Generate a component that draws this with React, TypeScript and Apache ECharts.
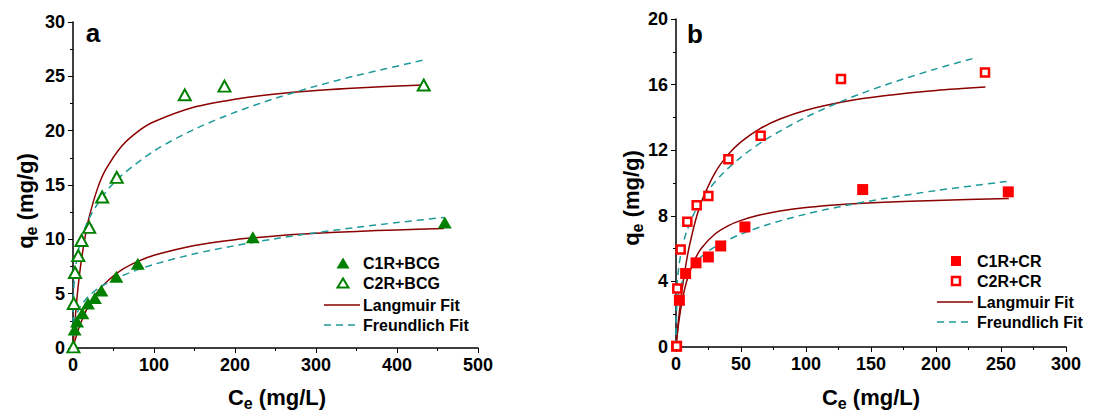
import React, { useEffect, useRef } from "react";
import * as echarts from "echarts";

// ---------- Panel a: BCG ----------
const bcgC1R: number[][] = [
  [2, 1.7], [5, 2.45], [11.5, 3.2], [18.5, 4.1], [27, 4.6], [35, 5.3],
  [53.5, 6.55], [80, 7.75], [222, 10.2], [459, 11.55],
];
const bcgC2R: number[][] = [
  [0.5, 0.1], [1, 4.1], [2.5, 6.95], [6.5, 8.5], [10.5, 9.9], [20, 11.1],
  [36, 13.9], [54, 15.7], [138, 23.3], [187, 24.1], [433, 24.2],
];
const bcgC1RLangmuir: number[][] = [
  [0, 0], [1, 0.29], [2, 0.57], [5, 1.33], [10, 2.39], [20, 3.99], [30, 5.13],
  [40, 5.98], [60, 7.18], [80, 7.97], [100, 8.54], [150, 9.44], [200, 9.97],
  [250, 10.31], [300, 10.55], [350, 10.73], [400, 10.87], [458, 11.0],
];
const bcgC2RLangmuir: number[][] = [
  [0, 0], [1, 1.1], [2, 2.1], [5, 4.67], [7, 6.1], [10, 7.9], [15, 10.26],
  [20, 12.06], [30, 14.62], [40, 16.36], [60, 18.57], [80, 19.92], [100, 20.82],
  [150, 22.17], [200, 22.9], [250, 23.37], [300, 23.69], [350, 23.93], [433, 24.2],
];
const bcgC1RFreundlich: number[][] = [
  [0, 0], [0.5, 1.64], [2, 2.46], [5, 3.21], [10, 3.93], [20, 4.81], [30, 5.42],
  [40, 5.89], [60, 6.63], [80, 7.21], [100, 7.7], [150, 8.67], [200, 9.42],
  [250, 10.06], [300, 10.61], [350, 11.1], [400, 11.54], [458, 12.01],
];
const bcgC2RFreundlich: number[][] = [
  [0, 0], [0.5, 4.6], [2, 6.58], [5, 8.34], [10, 9.98], [20, 11.95], [40, 14.3],
  [60, 15.88], [100, 18.13], [150, 20.13], [200, 21.69], [250, 22.98],
  [300, 24.1], [350, 25.07], [433, 26.5],
];

// ---------- Panel b: CR ----------
const crC1R: number[][] = [
  [0.5, 0.05], [2.6, 2.85], [7.4, 4.48], [15.4, 5.13], [24.9, 5.49], [34.4, 6.16],
  [53, 7.32], [143.6, 9.6], [255.6, 9.46],
];
const crC2R: number[][] = [
  [0.5, 0.04], [1, 3.56], [3.6, 5.94], [8.7, 7.63], [15.9, 8.65], [24.9, 9.2],
  [40.3, 11.45], [65.1, 12.88], [126.9, 16.34], [237.7, 16.74],
];
const crC1RLangmuir: number[][] = [
  [0, 0], [1, 0.78], [2, 1.44], [4, 2.5], [6, 3.31], [8, 3.95], [10, 4.47],
  [15, 5.42], [20, 6.07], [30, 6.89], [40, 7.39], [50, 7.72], [65, 8.06],
  [80, 8.29], [100, 8.5], [130, 8.7], [160, 8.83], [200, 8.94], [256, 9.05],
];
const crC2RLangmuir: number[][] = [
  [0, 0], [1, 0.89], [2, 1.69], [4, 3.08], [6, 4.23], [8, 5.21], [10, 6.05],
  [15, 7.71], [20, 8.94], [30, 10.62], [40, 11.73], [50, 12.51], [65, 13.33],
  [80, 13.9], [100, 14.44], [130, 14.97], [160, 15.32], [200, 15.64], [238, 15.85],
];
const crC1RFreundlich: number[][] = [
  [0, 0], [0.5, 2.33], [1, 2.75], [2, 3.23], [4, 3.8], [8, 4.48], [15, 5.19],
  [25, 5.85], [35, 6.33], [50, 6.89], [70, 7.45], [100, 8.11], [130, 8.62],
  [160, 9.05], [200, 9.54], [256, 10.11],
];
const crC2RFreundlich: number[][] = [
  [0, 0], [0.5, 3.26], [1, 3.95], [2, 4.78], [4, 5.78], [8, 7.0], [15, 8.32],
  [25, 9.57], [35, 10.5], [50, 11.58], [70, 12.7], [100, 14.01], [130, 15.07],
  [160, 15.95], [200, 16.96], [232, 17.67],
];

const legendA = ["C1R+BCG", "C2R+BCG", "Langmuir Fit", "Freundlich Fit"];
const legendB = ["C1R+CR", "C2R+CR", "Langmuir Fit", "Freundlich Fit"];

const FONT = "'Liberation Sans', Arial, Helvetica, sans-serif";
const GREEN = "#008000";
const RED = "#ff0000";
const MAROON = "#8b0000";
const TEAL = "#1f9a9a";
const DASH = [7, 5];

function axisCommon() {
  return {
    type: "value" as const,
    axisLine: { show: true, onZero: false, lineStyle: { color: "#000", width: 1.5 } },
    axisTick: { show: true, inside: false, length: 5, lineStyle: { color: "#000", width: 1 } },
    minorTick: { show: true, splitNumber: 2, length: 3, lineStyle: { color: "#000", width: 1 } },
    splitLine: { show: false },
    minorSplitLine: { show: false },
    axisLabel: { fontSize: 18, fontWeight: "bold", color: "#000", fontFamily: FONT, margin: 8 },
  };
}

function lineSeries(name: string, data: number[][], idx: number, color: string, dashed: boolean) {
  return {
    name,
    type: "line",
    xAxisIndex: idx,
    yAxisIndex: idx,
    data,
    symbol: "none",
    showSymbol: false,
    smooth: 0.3,
    z: 2,
    lineStyle: { color, width: 1.5, type: dashed ? DASH : "solid" },
  };
}

function scatterSeries(name: string, data: number[][], idx: number, symbol: string, size: any, style: any) {
  return {
    name, type: "scatter", xAxisIndex: idx, yAxisIndex: idx, data, symbol, symbolSize: size, z: 3,
    itemStyle: { opacity: 1, ...style },
  };
}

const titleRich = {
  m: { fontSize: 22, fontWeight: "bold", fontFamily: FONT, fill: "#000" },
  s: { fontSize: 16, fontWeight: "bold", fontFamily: FONT, fill: "#000", padding: [12, 0, 0, 0] },
};

function titleText(text: string, x: number, y: number, rotate: boolean) {
  return {
    type: "text",
    x,
    y,
    rotation: rotate ? Math.PI / 2 : 0,
    style: {
      text,
      rich: titleRich,
      align: "center",
      verticalAlign: "middle",
      fill: "#000",
    },
  };
}

function legendText(text: string, x: number, y: number) {
  return {
    type: "text",
    x,
    y,
    style: { text, fontSize: 16, fontWeight: "bold", fontFamily: FONT, fill: "#000", align: "left", verticalAlign: "middle" },
  };
}

export default function App() {
  const ref = useRef<HTMLDivElement>(null);
  useEffect(() => {
    if (!ref.current) return;
    const chart = echarts.init(ref.current, undefined, { renderer: "svg" });
    const option: any = {
      animation: false,
      backgroundColor: "#fff",
      grid: [
        { left: 73, top: 22, width: 405, height: 326 },
        { left: 676, top: 19, width: 390, height: 328 },
      ],
      xAxis: [
        { ...axisCommon(), gridIndex: 0, min: 0, max: 500, interval: 100 },
        { ...axisCommon(), gridIndex: 1, min: 0, max: 300, interval: 50 },
      ],
      yAxis: [
        { ...axisCommon(), gridIndex: 0, min: 0, max: 30, interval: 5 },
        { ...axisCommon(), gridIndex: 1, min: 0, max: 20, interval: 4 },
      ],
      series: [
        lineSeries(legendA[2], bcgC1RLangmuir, 0, MAROON, false),
        lineSeries(legendA[2], bcgC2RLangmuir, 0, MAROON, false),
        lineSeries(legendA[3], bcgC1RFreundlich, 0, TEAL, true),
        lineSeries(legendA[3], bcgC2RFreundlich, 0, TEAL, true),
        scatterSeries(legendA[0], bcgC1R, 0, "triangle", [14, 12], { color: GREEN }),
        scatterSeries(legendA[1], bcgC2R, 0, "triangle", [12, 11], { color: "#fff", borderColor: GREEN, borderWidth: 2 }),
        lineSeries(legendB[2], crC1RLangmuir, 1, MAROON, false),
        lineSeries(legendB[2], crC2RLangmuir, 1, MAROON, false),
        lineSeries(legendB[3], crC1RFreundlich, 1, TEAL, true),
        lineSeries(legendB[3], crC2RFreundlich, 1, TEAL, true),
        scatterSeries(legendB[0], crC1R, 1, "rect", 11, { color: RED }),
        scatterSeries(legendB[1], crC2R, 1, "rect", 8, { color: "#fff", borderColor: RED, borderWidth: 2.5 }),
      ],
      graphic: [
        { type: "text", x: 93, y: 33, style: { text: "a", fontSize: 26, fontWeight: "bold", fontFamily: FONT, fill: "#000", align: "center", verticalAlign: "middle" } },
        { type: "text", x: 695, y: 34, style: { text: "b", fontSize: 26, fontWeight: "bold", fontFamily: FONT, fill: "#000", align: "center", verticalAlign: "middle" } },
        titleText("{m|q}{s|e}{m| (mg/g)}", 25, 201, true),
        titleText("{m|C}{s|e}{m| (mg/L)}", 277, 397, false),
        titleText("{m|q}{s|e}{m| (mg/g)}", 631, 198, true),
        titleText("{m|C}{s|e}{m| (mg/L)}", 871, 397, false),
        // legend a
        { type: "polygon", shape: { points: [[336.5, 268.5], [343, 257.5], [349.5, 268.5]] }, style: { fill: GREEN } },
        legendText(legendA[0], 363, 263),
        { type: "polygon", shape: { points: [[337.5, 287.5], [343, 278.5], [348.5, 287.5]] }, style: { fill: "#fff", stroke: GREEN, lineWidth: 2 } },
        legendText(legendA[1], 363, 283),
        { type: "line", shape: { x1: 324, y1: 305, x2: 360, y2: 305 }, style: { stroke: MAROON, lineWidth: 1.5 } },
        legendText(legendA[2], 363, 305),
        { type: "line", shape: { x1: 324, y1: 325, x2: 360, y2: 325 }, style: { stroke: TEAL, lineWidth: 1.5, lineDash: DASH } },
        legendText(legendA[3], 363, 325),
        // legend b
        { type: "rect", shape: { x: 951, y: 256, width: 10, height: 10 }, style: { fill: RED } },
        legendText(legendB[0], 977, 261),
        { type: "rect", shape: { x: 952, y: 277, width: 8, height: 8 }, style: { fill: "#fff", stroke: RED, lineWidth: 2.5 } },
        legendText(legendB[1], 977, 281),
        { type: "line", shape: { x1: 937, y1: 302, x2: 973, y2: 302 }, style: { stroke: MAROON, lineWidth: 1.5 } },
        legendText(legendB[2], 977, 302),
        { type: "line", shape: { x1: 937, y1: 322, x2: 973, y2: 322 }, style: { stroke: TEAL, lineWidth: 1.5, lineDash: DASH } },
        legendText(legendB[3], 977, 322),
      ],
    };
    chart.setOption(option);
    return () => chart.dispose();
  }, []);
  return (
    <div
      ref={ref}
      style={{ position: "fixed", left: 0, top: 0, width: 1106, height: 414, background: "#fff" }}
    />
  );
}
